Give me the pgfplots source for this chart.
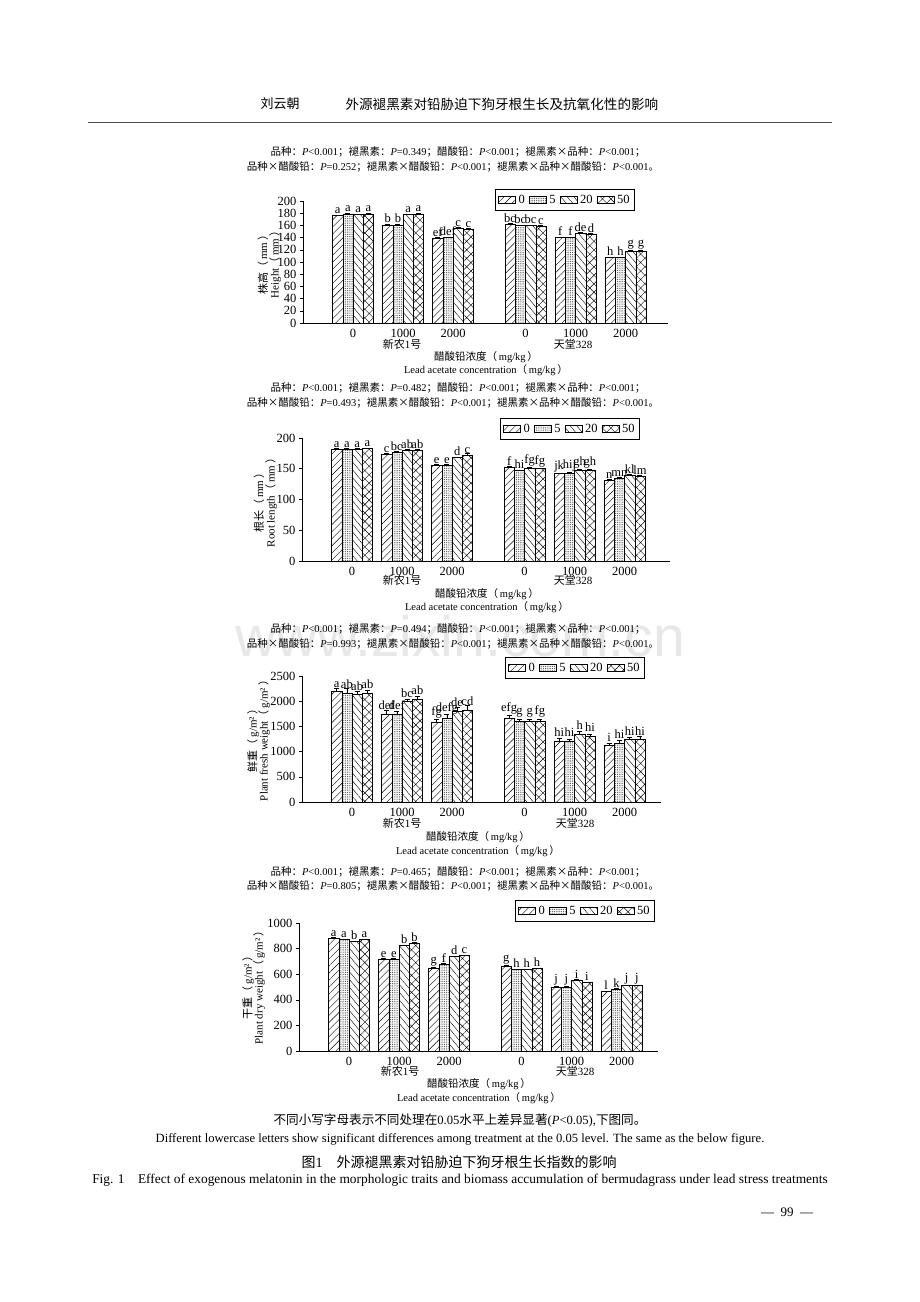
\documentclass[border=0pt]{standalone}
\usepackage{fontspec}
\setmainfont{Liberation Serif}
\newfontfamily\cjk{Noto Sans CJK SC}
\newfontfamily\wmfont{Liberation Sans}
\usepackage{pgfplots}
\pgfplotsset{compat=1.18}
\usepackage{pgfplotstable}
\usetikzlibrary{patterns.meta}

\newcommand\C[1]{{\cjk #1}}
\newcommand\Pv{\textit{P}}
\newcommand\fs[1]{\fontsize{#1}{#1}\selectfont}

\pgfplotstableread{
x y0 e0 l0 y5 e5 l5 y20 e20 l20 y50 e50 l50
0 176 1 a 179 1 a 178 1 a 179 1.5 a
1 161 1 b 161 1 b 178 1 a 179 1 a
2 139 1 ef 140 1 def 155 1.5 c 154 2 c
3.45 162 1.5 bc 160 1 bc 160 1 bc 159 1 c
4.45 140 1 f 140 1 f 147 1 de 146 1 d
5.45 107 1.5 h 107 1.5 h 118 2 g 118 2 g
}\tabH

\pgfplotstableread{
x y0 e0 l0 y5 e5 l5 y20 e20 l20 y50 e50 l50
0 182 1 a 182 1 a 182 1 a 183 1 a
1 174 1 c 177 1 bc 180 1 ab 180 1 ab
2 156 1 e 156 1 e 168 1.5 d 172 4 c
3.45 153 1 f 147 1 hi 151.5 1 fg 150.5 1 fg
4.45 142 1 jk 143 1 hij 148 1 gh 148 1 gh
5.45 132 1 n 134.5 1 mn 139.5 1 kl 138 1 lm
}\tabR

\pgfplotstableread{
x y0 e0 l0 y5 e5 l5 y20 e20 l20 y50 e50 l50
0 2190 60 a 2160 90 ab 2130 70 ab 2160 60 ab
1 1750 80 def 1750 60 def 1990 40 bc 2040 60 ab
2 1580 60 fg 1660 90 defg 1800 90 de 1830 80 cd
3.45 1660 70 efg 1595 40 g 1595 40 g 1605 40 fg
4.45 1215 50 hi 1215 30 hi 1345 60 h 1305 40 hi
5.45 1120 50 i 1170 50 hi 1245 40 hi 1245 60 hi
}\tabF

\pgfplotstableread{
x y0 e0 l0 y5 e5 l5 y20 e20 l20 y50 e50 l50
0 882 5 a 870 5 a 856 5 b 870 5 a
1 719 5 e 719 5 e 823 5 b 842 5 b
2 650 6 g 678 5 f 737 5 d 745 5 c
3.45 662 5 g 635 4 h 635 4 h 643 5 h
4.45 500 5 j 500 5 j 552 5 i 535 5 i
5.45 464 5 l 482 5 k 512 5 j 510 5 j
}\tabD

\pgfplotsset{
 myaxis/.style={
   scale only axis,
   ybar=0pt, bar width=10.25pt,
   axis x line*=bottom, axis y line*=left,
   axis line style={line width=0.7pt,-},
   xmin=-1, ymin=0,
   xtick={0,1,2,3.45,4.45,5.45},
   xticklabels={0,1000,2000,0,1000,2000},
   x tick style={draw=none},
   y tick style={line width=0.6pt, black},
   tick align=outside, major tick length=3pt,
   tick label style={font=\fs{12.5}},
   /pgf/number format/assume math mode=true,
   /pgf/number format/1000 sep={},
   point meta=explicit symbolic,
   nodes near coords,
   every node near coord/.append style={font=\fs{12.5}, inner sep=1pt, text=black},
   error bars/y dir=plus, error bars/y explicit,
   error bars/error mark options={rotate=90, mark size=2.5pt, line width=0.5pt, black},
   error bars/error bar style={line width=0.5pt, black},
   legend columns=4,
   legend style={draw=black, line width=0.6pt, font=\fs{12.5}, anchor=north east,
     inner xsep=3pt, inner ysep=3.5pt, /tikz/every even column/.append style={column sep=2pt},
     /tikz/every odd column/.append style={column sep=1pt}},
   legend image code/.code={\draw[##1, line width=0.5pt] (0pt,-3.5pt) rectangle (17pt,3.5pt);},
   clip=false,
 },
 s0/.style={draw=black, line width=0.5pt, pattern={Lines[angle=45,distance=5pt,line width=0.4pt]}},
 s5/.style={draw=black, line width=0.5pt, pattern color=black!75, pattern={Dots[distance=1.8pt,radius=0.5pt]}},
 s20/.style={draw=black, line width=0.5pt, pattern={Lines[angle=-50,distance=5pt,line width=0.4pt]}},
 s50/.style={draw=black, line width=0.5pt, pattern={Hatch[angle=45,distance=6pt,line width=0.4pt]}},
}

\newcommand\fourplots[1]{%
  \addplot[s0] table[x=x,y=y0,y error=e0,meta=l0]{#1};
  \addplot[s5] table[x=x,y=y5,y error=e5,meta=l5]{#1};
  \addplot[s20] table[x=x,y=y20,y error=e20,meta=l20]{#1};
  \addplot[s50] table[x=x,y=y50,y error=e50,meta=l50]{#1};
  \legend{0,5,20,50}}

% title lines: y1, y2, p1, p2
\newcommand\ptitle[4]{%
  \node[font=\fs{10.5}] at (458pt,-#1pt) {\C{品种：}\Pv<0.001\C{；褪黑素：}\Pv=#3\C{；醋酸铅：}\Pv<0.001\C{；褪黑素×品种：}\Pv<0.001\C{；}};
  \node[font=\fs{10.5}] at (453pt,-#2pt) {\C{品种×醋酸铅：}\Pv=#4\C{；褪黑素×醋酸铅：}\Pv<0.001\C{；褪黑素×品种×醋酸铅：}\Pv<0.001\C{。}};}

% x labels: y(group), y(cn), y(en), x(xn), x(tt), x(center)
\newcommand\xlabs[6]{%
  \node[font=\fs{11}] at (#4pt,-#1pt) {\C{新农}1\C{号}};
  \node[font=\fs{11}] at (#5pt,-#1pt) {\C{天堂}328};
  \node[font=\fs{10.5}] at (#6pt,-#2pt) {\C{醋酸铅浓度（}\,mg/kg\,\C{）}};
  \node[font=\fs{10.5}] at (#6pt,-#3pt) {Lead acetate concentration\C{（}\,mg/kg\,\C{）}};}

\newcommand\ylabs[5]{% x1 x2 y cn en
  \node[rotate=90, font=\fs{11}] at (#1pt,-#3pt) {#4};
  \node[rotate=90, font=\fs{11}] at (#2pt,-#3pt) {#5};}

\begin{document}
\begin{tikzpicture}
\fill[white] (0pt,0pt) rectangle (920pt,-1302pt);
\useasboundingbox (0pt,0pt) rectangle (920pt,-1302pt);

% watermark
\node[font=\wmfont\fs{57}, text=black!9] at (460pt,-636pt) {www.zixin.com.cn};

% header
\node[anchor=west, font=\cjk\fs{13}] at (257pt,-104pt) {刘云朝};
\node[anchor=west, font=\cjk\fs{13.6}] at (342pt,-104pt) {外源褪黑素对铅胁迫下狗牙根生长及抗氧化性的影响};
\draw[line width=0.8pt, black!70] (88pt,-122pt) -- (832pt,-122pt);

% ---------- Panel 1: height ----------
\ptitle{152}{167}{0.349}{0.252}
\begin{axis}[myaxis, at={(303pt,-323pt)}, anchor=south west,
  width=365pt, height=122pt, xmax=6.3, ymax=200, ytick={0,20,...,200},
  legend style={at={(0.9096,1.098)}},
  every node near coord/.append style={yshift=0.5pt}]
\fourplots{\tabH}
\end{axis}
\ylabs{263}{275}{262}{\C{株高（}\,mm\,\C{）}}{Height\C{（}\,mm\,\C{）}}
\xlabs{344}{357}{370}{402}{573}{486}

% ---------- Panel 2: root length ----------
\ptitle{388}{403}{0.482}{0.493}
\begin{axis}[myaxis, at={(302pt,-561pt)}, anchor=south west,
  width=368pt, height=123pt, xmax=6.36, ymax=200, ytick={0,50,...,200},
  legend style={at={(0.918,1.163)}},
  every node near coord/.append style={yshift=0.5pt}]
\fourplots{\tabR}
\end{axis}
\ylabs{259}{271}{500}{\C{根长（}\,mm\,\C{）}}{Root length\C{（}\,mm\,\C{）}}
\xlabs{580}{594}{607}{402}{573}{487}

% ---------- Panel 3: fresh weight ----------
\ptitle{629}{644}{0.494}{0.993}
\begin{axis}[myaxis, at={(302pt,-802pt)}, anchor=south west,
  width=359pt, height=126pt, xmax=6.18, ymax=2500, ytick={0,500,...,2500},
  legend style={at={(0.955,1.151)}},
  every node near coord/.append style={yshift=3pt}]
\fourplots{\tabF}
\end{axis}
\ylabs{253}{264}{738}{\C{鲜重（}\,g/m²\,\C{）}}{Plant fresh weight\C{（}\,g/m²\,\C{）}}
\xlabs{823}{837}{851}{402}{575}{478}

% ---------- Panel 4: dry weight ----------
\ptitle{872}{886}{0.465}{0.805}
\begin{axis}[myaxis, at={(299pt,-1051pt)}, anchor=south west,
  width=359pt, height=128pt, xmax=6.18, ymax=1000, ytick={0,200,...,1000},
  legend style={at={(0.9916,1.18)}},
  every node near coord/.append style={yshift=0.5pt}]
\fourplots{\tabD}
\end{axis}
\ylabs{248}{259}{985}{\C{干重（}\,g/m²\,\C{）}}{Plant dry weight\C{（}\,g/m²\,\C{）}}
\xlabs{1071}{1084}{1098}{400}{575}{479}

% captions
\node[font=\fs{12.6}] at (460pt,-1120pt) {\C{不同小写字母表示不同处理在}0.05\C{水平上差异显著}(\Pv<0.05),\C{下图同。}};
\node[font=\fs{12.6}] at (460pt,-1139pt) {Different lowercase letters show significant differences among treatment at the 0.05 level. The same as the below figure.};
\node[font=\fs{14}] at (459pt,-1162pt) {\C{图}1\quad\C{外源褪黑素对铅胁迫下狗牙根生长指数的影响}};
\node[font=\fs{13.4}] at (460pt,-1180pt) {Fig. 1\quad Effect of exogenous melatonin in the morphologic traits and biomass accumulation of bermudagrass under lead stress treatments};

% footer
\node[font=\fs{13}] at (787pt,-1212pt) {—\ \ 99\ \ —};
\end{tikzpicture}
\end{document}
